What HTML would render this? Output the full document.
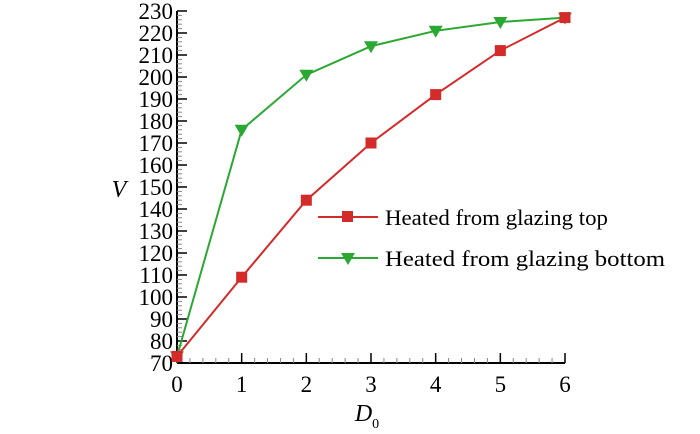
<!DOCTYPE html>
<html><head><meta charset="utf-8"><style>
html,body{margin:0;padding:0;background:#fff}
svg{display:block;font-family:"Liberation Serif",serif}
</style></head><body>
<svg id="chart" width="700" height="434" viewBox="0 0 700 434" xmlns="http://www.w3.org/2000/svg">
<g id="axes"></g>
<g id="series"></g>
<g id="legend">
  <line x1="318" y1="217" x2="378" y2="217" stroke="#d42a2a" stroke-width="2"/>
  <rect x="342" y="211" width="11" height="11" fill="#d42a2a"/>
  <text x="385" y="225" font-size="22" textLength="223" lengthAdjust="spacingAndGlyphs">Heated from glazing top</text>
  <line x1="318" y1="258" x2="378" y2="258" stroke="#2aa832" stroke-width="2"/>
  <polygon points="341,253 355,253 348,265" fill="#2aa832"/>
  <text x="385" y="266" font-size="22" textLength="280" lengthAdjust="spacingAndGlyphs">Heated from glazing bottom</text>
</g>
</svg>
<script>
const categories=[0,1,2,3,4,5,6];
const topValues=[73,109,144,170,192,212,227];
const bottomValues=[73,176,201,214,221,225,227];
const yTicks=[70,80,90,100,110,120,130,140,150,160,170,180,190,200,210,220,230];
const xTicks=[0,1,2,3,4,5,6];
const NS="http://www.w3.org/2000/svg";
const X0=177,X1=565,Y0=363,Y1=11;
function xs(v){return X0+(v-0)/(6-0)*(X1-X0);}
function ys(v){return Y0-(v-70)/(230-70)*(Y0-Y1);}
function mk(t,a,p){const e=document.createElementNS(NS,t);for(const k in a)e.setAttribute(k,a[k]);p.appendChild(e);return e;}
const ax=document.getElementById('axes');
mk('line',{x1:X0,y1:Y1,x2:X0,y2:Y0,stroke:'#000','stroke-width':2},ax);
mk('line',{x1:X0,y1:Y0,x2:X1,y2:Y0,stroke:'#000','stroke-width':2},ax);
for(let v=70;v<=230;v+=2){const y=ys(v);const maj=(v%10===0);
 mk('line',{x1:X0,y1:y,x2:X0+(maj?10:5),y2:y,stroke:maj?'#000':'#888','stroke-width':maj?1.5:1},ax);}
for(let i=0;i<=30;i++){const v=i/5;const x=xs(v);const maj=(i%5===0);
 mk('line',{x1:x,y1:Y0,x2:x,y2:Y0-(maj?10:5),stroke:maj?'#000':'#888','stroke-width':maj?1.5:1},ax);}
yTicks.forEach(v=>{const t=mk('text',{x:X0-4,y:ys(v)+8,'text-anchor':'end','font-size':23},ax);t.textContent=v;
 
 });
xTicks.forEach(v=>{const t=mk('text',{x:xs(v),y:392,'text-anchor':'middle','font-size':23},ax);t.textContent=v;
 
 });
const yt=mk('text',{x:119,y:197,'font-size':24,'font-style':'italic','text-anchor':'middle'},ax);yt.textContent='V';


const xt=mk('text',{x:367,y:421,'font-size':24,'font-style':'italic','text-anchor':'middle'},ax);xt.innerHTML='D<tspan font-size="14" font-style="normal" dy="7">0</tspan>';


const sg=document.getElementById('series');
function draw(vals,color,tri,name){
 const pts=categories.map((c,i)=>xs(c)+','+ys(vals[i])).join(' ');
 const pl=mk('polyline',{points:pts,fill:'none',stroke:color,'stroke-width':2},sg);
 
 
 categories.forEach((c,i)=>{const x=xs(c),y=ys(vals[i]);let m;
  if(tri)m=mk('polygon',{points:(x-7)+','+(y-5)+' '+(x+7)+','+(y-5)+' '+x+','+(y+7),fill:color},sg);
  else m=mk('rect',{x:x-5.5,y:y-5.5,width:11,height:11,fill:color},sg);
  
  });
}
draw(bottomValues,'#2aa832',true,'bottom');
draw(topValues,'#d42a2a',false,'top');
</script>
</body></html>
